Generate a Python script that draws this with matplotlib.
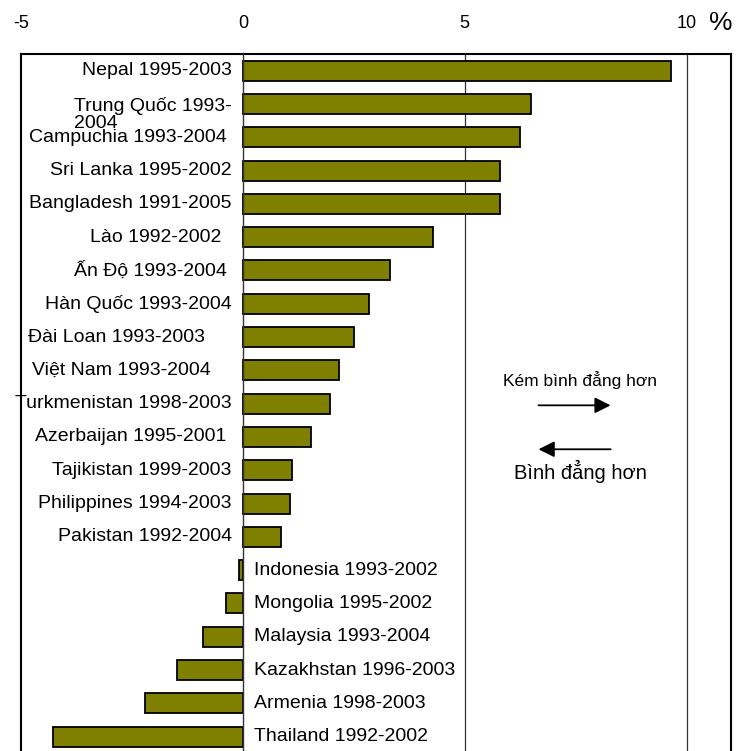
import numpy as np
import matplotlib
matplotlib.use("Agg")
import matplotlib.pyplot as plt

# ---------------------- dữ liệu ----------------------
labels = [
    "Nepal 1995-2003", "Trung Quốc 1993-\n2004", "Campuchia 1993-2004 ",
    "Sri Lanka 1995-2002", "Bangladesh 1991-2005", "Lào 1992-2002  ",
    "Ấn Độ 1993-2004 ", "Hàn Quốc 1993-2004", "Đài Loan 1993-2003     ",
    "Việt Nam 1993-2004    ", "Turkmenistan 1998-2003", "Azerbaijan 1995-2001 ",
    "Tajikistan 1999-2003", "Philippines 1994-2003", "Pakistan 1992-2004",
    "Indonesia 1993-2002", "Mongolia 1995-2002", "Malaysia 1993-2004",
    "Kazakhstan 1996-2003", "Armenia 1998-2003", "Thailand 1992-2002",
]
values = [9.64, 6.49, 6.24, 5.79, 5.79, 4.28, 3.31, 2.84, 2.50, 2.17, 1.96,
          1.53, 1.11, 1.07, 0.86, -0.09, -0.38, -0.89, -1.48, -2.21, -4.29]
xticks = [-5, 0, 5, 10]

plt.rcParams["font.family"] = ["Liberation Sans", "DejaVu Sans"]

fig = plt.figure(figsize=(7.38, 7.51), dpi=100)
ax = fig.add_axes([0.0285, -0.003, 0.962, 0.931])

y = np.arange(len(values))
ax.barh(y, values, height=0.6, color="#808000", edgecolor="black",
        linewidth=1.3, zorder=3)

ax.set_xlim(-5, 11)
ax.set_ylim(len(values) - 0.5, -0.5)

# đường lưới dọc + trục 0
for v in [5, 10]:
    ax.axvline(v, color="#333333", lw=0.9, zorder=1)
ax.axvline(0, color="#333333", lw=1.0, zorder=4)

# nhãn quốc gia
for yi, v, lab in zip(y, values, labels):
    if v >= 0:
        if "\n" in lab:
            ax.annotate(lab, (-0.25, yi), xytext=(0, -7.5), textcoords="offset points",
                        ha="right", va="center", multialignment="left",
                        fontsize=14, linespacing=1.0)
        else:
            ax.text(-0.25, yi, lab, ha="right", va="center", fontsize=14)
    else:
        ax.text(0.25, yi, lab, ha="left", va="center", fontsize=14)

# trục x ở trên, không có vạch
ax.xaxis.tick_top()
ax.set_xticks(xticks)
ax.set_xticklabels([str(t) for t in xticks])
ax.tick_params(axis="x", length=0, pad=16, labelsize=13)
ax.set_yticks([])
for s in ax.spines.values():
    s.set_linewidth(1.5)
    s.set_color("black")

fig.text(0.977, 0.969, "%", fontsize=19, ha="center", va="center")

# chú thích mũi tên
ax.text(7.6, 9.3, "Kém bình đẳng hơn", ha="center", va="center", fontsize=12.5)
ax.annotate("", xy=(8.35, 10.05), xytext=(6.6, 10.05),
            arrowprops=dict(arrowstyle="-|>", color="black", lw=1.3,
                            mutation_scale=24))
ax.annotate("", xy=(6.6, 11.37), xytext=(8.35, 11.37),
            arrowprops=dict(arrowstyle="-|>", color="black", lw=1.3,
                            mutation_scale=24))
ax.text(7.6, 12.05, "Bình đẳng hơn", ha="center", va="center", fontsize=14.5)

fig.savefig("out.png", dpi=100)
